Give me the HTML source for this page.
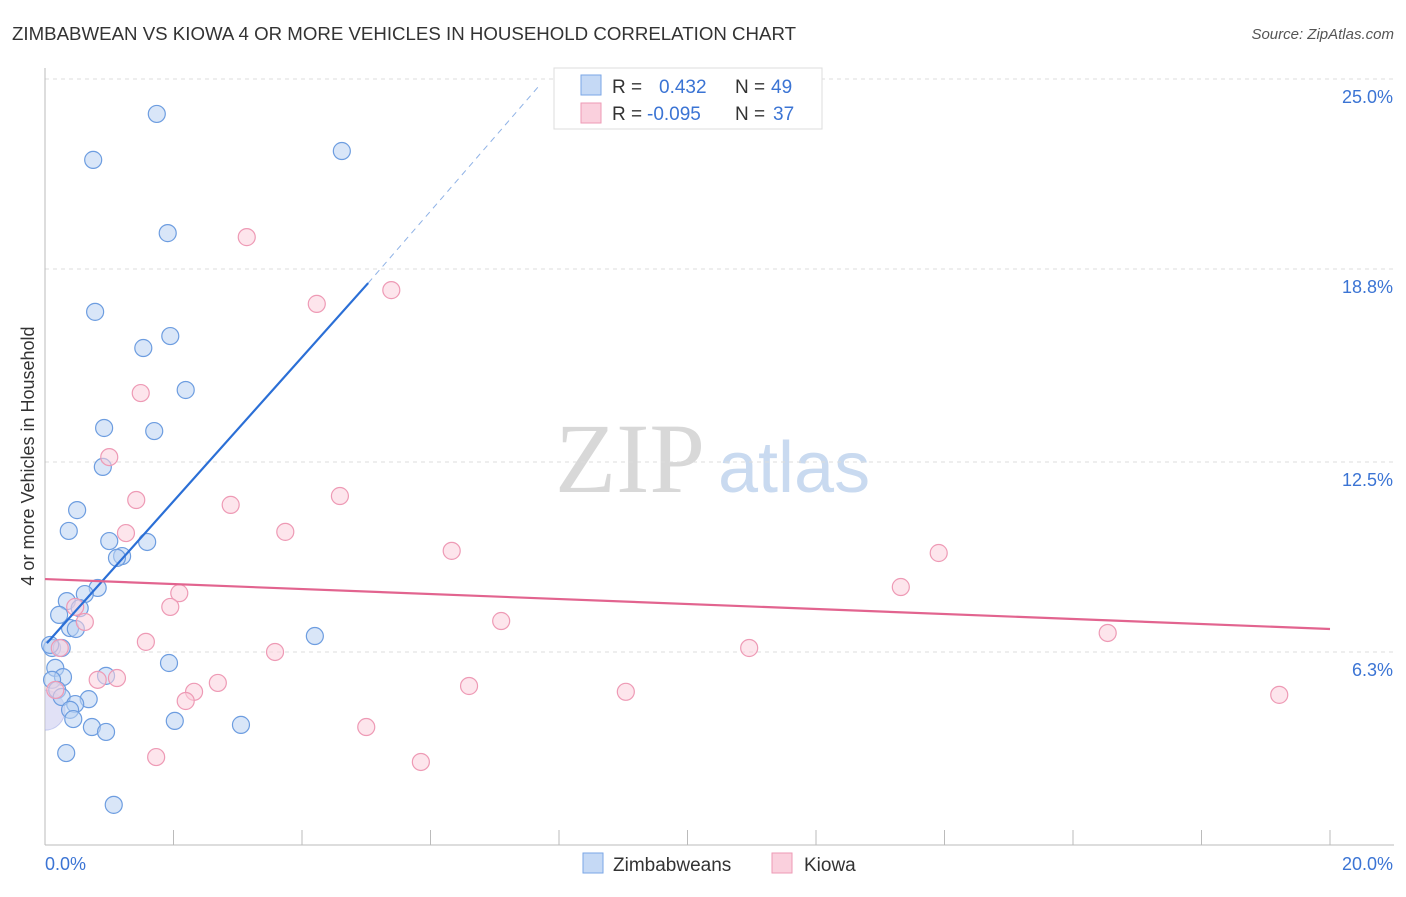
<!DOCTYPE html>
<html><head><meta charset="utf-8"><style>
body{margin:0;background:#fff;font-family:"Liberation Sans",sans-serif}
</style></head><body>
<svg id="c" width="1406" height="892" xmlns="http://www.w3.org/2000/svg">
<defs><clipPath id="plotclip"><rect x="45" y="60" width="1360" height="785"/></clipPath></defs>
<text x="12" y="40" font-size="18" fill="#333" textLength="784" lengthAdjust="spacingAndGlyphs">ZIMBABWEAN VS KIOWA 4 OR MORE VEHICLES IN HOUSEHOLD CORRELATION CHART</text>
<text x="1394" y="39" font-size="15" fill="#555" font-style="italic" text-anchor="end">Source: ZipAtlas.com</text>
<g>
<text x="555" y="492" font-family="Liberation Serif,serif" font-size="100" fill="#d8d8d8">ZIP</text>
<text x="718" y="492" font-size="72" fill="#c9daf0">atlas</text>
</g>
<text transform="translate(34,456) rotate(-90)" font-size="18" fill="#333" text-anchor="middle">4 or more Vehicles in Household</text>
<g id="grid"></g><g id="axes"></g><g id="bg" clip-path="url(#plotclip)"></g><g id="pts"></g><g id="trend"></g>
<g>
<rect x="554" y="68" width="268" height="61" fill="#fff" stroke="#ddd"/>
<rect x="581" y="75" width="20" height="20" fill="#c5d9f5" stroke="#7aa6e6"/>
<rect x="581" y="103" width="20" height="20" fill="#fad0dd" stroke="#ee9ab5"/>
<text y="93" font-size="19" fill="#333"><tspan x="612">R =</tspan><tspan x="659" fill="#3b74d4">0.432</tspan><tspan x="735">N =</tspan><tspan x="771" fill="#3b74d4">49</tspan></text>
<text y="120" font-size="19" fill="#333"><tspan x="612">R =</tspan><tspan x="647" fill="#3b74d4">-0.095</tspan><tspan x="735">N =</tspan><tspan x="773" fill="#3b74d4">37</tspan></text>
</g>
<g>
<rect x="583" y="853" width="20" height="20" fill="#c5d9f5" stroke="#7aa6e6"/>
<text x="613" y="871" font-size="19" fill="#333">Zimbabweans</text>
<rect x="772" y="853" width="20" height="20" fill="#fad0dd" stroke="#ee9ab5"/>
<text x="804" y="871" font-size="19" fill="#333">Kiowa</text>
</g>
</svg>
<script>
const yTicks=[6.3,12.5,18.8,25.0];
const yTickLabels=["6.3%","12.5%","18.8%","25.0%"];
const xTickLabels=["0.0%","20.0%"];
const blueX=[1.74,0.75,4.62,1.91,0.78,1.95,1.53,2.19,0.92,1.70,0.90,0.50,0.37,1.00,1.59,1.20,1.12,0.82,0.62,0.34,0.54,0.22,0.39,0.48,4.20,0.11,0.26,0.16,1.93,0.95,0.28,0.11,0.19,0.26,0.68,0.47,0.39,0.44,2.02,3.05,0.73,0.95,0.33,1.07,0.08];
const blueY=[23.86,22.36,22.65,19.97,17.40,16.61,16.22,14.85,13.61,13.51,12.34,10.93,10.25,9.92,9.89,9.43,9.37,8.39,8.19,7.96,7.73,7.51,7.08,7.05,6.82,6.43,6.43,5.78,5.94,5.52,5.48,5.39,5.06,4.83,4.76,4.60,4.41,4.11,4.05,3.92,3.85,3.69,3.00,1.31,6.53];
const pinkX=[3.14,4.23,5.39,1.49,1.00,1.42,4.59,2.89,3.74,1.26,6.33,13.91,13.32,2.09,1.95,7.10,0.62,0.47,16.54,1.57,10.96,3.58,0.82,1.12,2.69,2.32,2.19,6.60,9.04,19.21,5.00,1.73,5.85,0.16,0.23];
const pinkY=[19.84,17.66,18.11,14.75,12.66,11.26,11.39,11.10,10.22,10.18,9.60,9.53,8.42,8.22,7.77,7.31,7.28,7.77,6.92,6.63,6.43,6.30,5.39,5.45,5.29,5.00,4.70,5.19,5.00,4.90,3.85,2.87,2.71,5.06,6.43];
const blueTrend=[[0.03,6.59],[5.03,18.34],[7.7,24.8]];
const pinkTrend=[[0,8.68],[20,7.05]];
const X=v=>45+v*64.25, Y=v=>79+(25-v)*30.64;
const NS="http://www.w3.org/2000/svg";
function mk(t,a,p){const e=document.createElementNS(NS,t);for(const k in a)e.setAttribute(k,a[k]);document.getElementById(p).appendChild(e);return e;}
yTicks.forEach((t,i)=>{
 const g=mk('line',{x1:45,x2:1394,y1:Y(t),y2:Y(t),stroke:'#ddd','stroke-dasharray':'4,4'},'grid');
 
 
 const l=mk('text',{x:1393,y:Y(t)+24,'font-size':18,fill:'#3b74d4','text-anchor':'end'},'grid');
 l.textContent=yTickLabels[i];
 
 
});
mk('line',{x1:45,x2:45,y1:68,y2:845,stroke:'#bbb'},'axes');
mk('line',{x1:45,x2:1394,y1:845,y2:845,stroke:'#bbb'},'axes');
for(let i=0;i<=10;i++){const t=mk('line',{x1:X(i*2),x2:X(i*2),y1:830,y2:845,stroke:'#bbb'},'axes');
 
 }
const xl0=mk('text',{x:45,y:870,'font-size':18,fill:'#3b74d4'},'axes');xl0.textContent=xTickLabels[0];


const xl1=mk('text',{x:1393,y:870,'font-size':18,fill:'#3b74d4','text-anchor':'end'},'axes');xl1.textContent=xTickLabels[1];


const big=mk('circle',{cx:X(0),cy:Y(4.4),r:20,fill:'#c8c8ef','fill-opacity':0.55,stroke:'#9aa6e6','stroke-opacity':0.5},'bg');


function dots(xs,ys,f,s,n){xs.forEach((x,i)=>{const c=mk('circle',{cx:X(x),cy:Y(ys[i]),r:8.5,fill:f,'fill-opacity':0.55,stroke:s,'stroke-width':1.2},'pts');
 
 });}
dots(blueX,blueY,'#b9d2f3','#6d9de0','zimbabwean-point');
dots(pinkX,pinkY,'#fbd0dd','#ee9ab5','kiowa-point');
const b1=mk('line',{x1:X(blueTrend[0][0]),y1:Y(blueTrend[0][1]),x2:X(blueTrend[1][0]),y2:Y(blueTrend[1][1]),stroke:'#2b6fd6','stroke-width':2.2},'trend');


const b2=mk('line',{x1:X(blueTrend[1][0]),y1:Y(blueTrend[1][1]),x2:X(blueTrend[2][0]),y2:Y(blueTrend[2][1]),stroke:'#8fb2e6','stroke-width':1,'stroke-dasharray':'6,5'},'trend');


const p1=mk('line',{x1:X(pinkTrend[0][0]),y1:Y(pinkTrend[0][1]),x2:X(pinkTrend[1][0]),y2:Y(pinkTrend[1][1]),stroke:'#e2648f','stroke-width':2.2},'trend');


</script>
</body></html>
